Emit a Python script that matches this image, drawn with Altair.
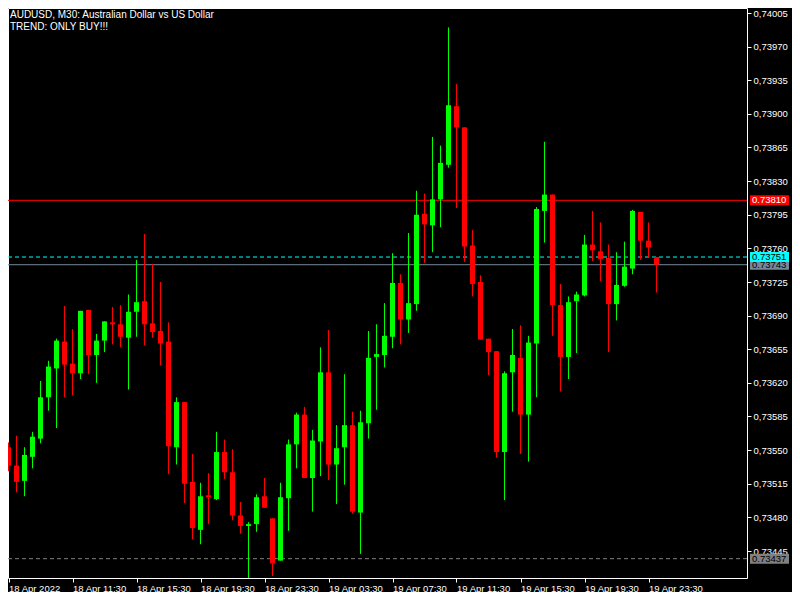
import altair as alt
import pandas as pd

# ---------------- data (AUDUSD M30) ----------------
start_time = "2022-04-18T07:30:00Z"
opens = [0.73553, 0.73534, 0.73518, 0.73543, 0.73562, 0.73605, 0.73635, 0.73663, 0.73640, 0.73630,
         0.73696, 0.73649, 0.73664, 0.73683, 0.73681, 0.73667, 0.73694, 0.73705, 0.73682, 0.73674,
         0.73663, 0.73553, 0.73600, 0.73517, 0.73467, 0.73503, 0.73499, 0.73548, 0.73527, 0.73482,
         0.73471, 0.73473, 0.73502, 0.73479, 0.73435, 0.73500, 0.73556, 0.73587, 0.73521, 0.73559,
         0.73631, 0.73535, 0.73553, 0.73576, 0.73485, 0.73578, 0.73647, 0.73649, 0.73668, 0.73724,
         0.73686, 0.73702, 0.73796, 0.73784, 0.73811, 0.73847, 0.73908, 0.73886, 0.73763, 0.73725,
         0.73666, 0.73653, 0.73548, 0.73631, 0.73646, 0.73587, 0.73661, 0.73799, 0.73816, 0.73701,
         0.73647, 0.73705, 0.73711, 0.73764, 0.73757, 0.73750, 0.73702, 0.73721, 0.73739, 0.73798,
         0.73768, 0.73751]
highs = [0.73558, 0.73565, 0.73553, 0.73569, 0.73622, 0.73643, 0.73666, 0.73700, 0.73676, 0.73695,
         0.73696, 0.73671, 0.73684, 0.73699, 0.73701, 0.73712, 0.73748, 0.73775, 0.73744, 0.73725,
         0.73683, 0.73605, 0.73600, 0.73546, 0.73516, 0.73526, 0.73569, 0.73561, 0.73551, 0.73496,
         0.73475, 0.73504, 0.73521, 0.73479, 0.73516, 0.73561, 0.73589, 0.73595, 0.73571, 0.73657,
         0.73675, 0.73576, 0.73629, 0.73590, 0.73591, 0.73674, 0.73681, 0.73703, 0.73755, 0.73733,
         0.73776, 0.73820, 0.73817, 0.73876, 0.73867, 0.73990, 0.73931, 0.73886, 0.73779, 0.73732,
         0.73666, 0.73653, 0.73632, 0.73676, 0.73680, 0.73669, 0.73803, 0.73871, 0.73816, 0.73723,
         0.73710, 0.73715, 0.73774, 0.73799, 0.73787, 0.73764, 0.73756, 0.73767, 0.73800, 0.73798,
         0.73787, 0.73751]
lows = [0.73528, 0.73506, 0.73502, 0.73531, 0.73557, 0.73591, 0.73573, 0.73605, 0.73607, 0.73624,
        0.73629, 0.73620, 0.73652, 0.73660, 0.73657, 0.73613, 0.73668, 0.73659, 0.73667, 0.73638,
        0.73525, 0.73535, 0.73495, 0.73457, 0.73452, 0.73473, 0.73498, 0.73520, 0.73477, 0.73463,
        0.73416, 0.73465, 0.73490, 0.73419, 0.73435, 0.73466, 0.73531, 0.73521, 0.73486, 0.73523,
        0.73519, 0.73494, 0.73514, 0.73484, 0.73442, 0.73562, 0.73592, 0.73636, 0.73656, 0.73660,
        0.73672, 0.73695, 0.73745, 0.73756, 0.73782, 0.73844, 0.73802, 0.73746, 0.73710, 0.73665,
        0.73628, 0.73542, 0.73498, 0.73590, 0.73546, 0.73538, 0.73605, 0.73766, 0.73669, 0.73611,
        0.73624, 0.73651, 0.73710, 0.73747, 0.73726, 0.73652, 0.73685, 0.73720, 0.73733, 0.73748,
        0.73751, 0.73714]
closes = [0.73534, 0.73517, 0.73545, 0.73564, 0.73605, 0.73637, 0.73664, 0.73639, 0.73630, 0.73695,
          0.73649, 0.73664, 0.73684, 0.73681, 0.73668, 0.73694, 0.73704, 0.73681, 0.73673, 0.73661,
          0.73554, 0.73600, 0.73515, 0.73469, 0.73502, 0.73501, 0.73548, 0.73527, 0.73482, 0.73471,
          0.73473, 0.73501, 0.73490, 0.73432, 0.73501, 0.73556, 0.73587, 0.73521, 0.73560, 0.73631,
          0.73535, 0.73552, 0.73576, 0.73486, 0.73579, 0.73646, 0.73650, 0.73669, 0.73724, 0.73686,
          0.73703, 0.73795, 0.73785, 0.73811, 0.73849, 0.73909, 0.73886, 0.73762, 0.73723, 0.73665,
          0.73652, 0.73548, 0.73630, 0.73649, 0.73587, 0.73662, 0.73801, 0.73816, 0.73701, 0.73647,
          0.73704, 0.73712, 0.73764, 0.73758, 0.73749, 0.73702, 0.73722, 0.73741, 0.73799, 0.73768,
          0.73761, 0.73743]

y_ticks = [0.74005, 0.73970, 0.73935, 0.73900, 0.73865, 0.73830, 0.73795, 0.73760, 0.73725,
           0.73690, 0.73655, 0.73620, 0.73585, 0.73550, 0.73515, 0.73480, 0.73445]
x_tick_labels = ["18 Apr 2022", "18 Apr 11:30", "18 Apr 15:30", "18 Apr 19:30", "18 Apr 23:30",
                 "19 Apr 03:30", "19 Apr 07:30", "19 Apr 11:30", "19 Apr 15:30", "19 Apr 19:30",
                 "19 Apr 23:30"]

level_prices = [0.73810, 0.73743, 0.73751, 0.73437]
level_labels = ["0.73810", "0.73743", "0.73751", "0.73437"]
level_colors = ["#ff0000", "#778899", "#00ffff", "#808080"]
level_text_colors = ["#ffffff", "#000000", "#000000", "#000000"]
level_styles = ["solid", "solid", "dash", "dash"]

title_lines = ["AUDUSD, M30:  Australian Dollar vs US Dollar", "TREND: ONLY BUY!!!"]

# ---------------- frames ----------------
times = pd.date_range(start=start_time, periods=len(opens), freq="30min")
df = pd.DataFrame({
    "time": times.strftime("%Y-%m-%dT%H:%M:%SZ"),
    "open": opens, "high": highs, "low": lows, "close": closes,
})
df["dir"] = ["up" if c > o else "down" for o, c in zip(opens, closes)]

levels = pd.DataFrame({
    "price": level_prices, "label": level_labels, "color": level_colors,
    "tcolor": level_text_colors, "style": level_styles,
})

# ---------------- layout ----------------
W, H = 739, 570
FONT = "Liberation Sans"
FS = 9.5
step_ms = 30 * 60 * 1000
px_per_bar = 8
t0 = int(pd.Timestamp(start_time).value // 10**6)
dom_start = t0 - int(0.5 / px_per_bar * step_ms)
dom_end = dom_start + int(W / px_per_bar * step_ms)
x_tick_values = [t0 + i * 8 * step_ms for i in range(len(x_tick_labels))]
label_array = "[" + ",".join("'" + s + "'" for s in x_tick_labels) + "]"

price_per_px = 0.0056 / 538
y_top = y_ticks[0] + 5 * price_per_px
y_bottom = y_top - H * price_per_px

xscale = alt.Scale(type="utc", domain=[dom_start, dom_end], nice=False)
yscale = alt.Scale(domain=[y_bottom, y_top], nice=False, zero=False)

x_axis = alt.Axis(values=x_tick_values, title=None, grid=False, domain=False,
                  tickColor="#ffffff", tickSize=4, tickWidth=1,
                  labelColor="#ffffff", labelFont=FONT, labelFontSize=FS,
                  labelAlign="left", labelBaseline="top", labelPadding=1, labelFlush=False,
                  labelOverlap=False,
                  labelExpr=f"{label_array}[round((datum.value - {t0}) / {8 * step_ms})]")
y_axis = alt.Axis(values=y_ticks, orient="right", title=None, grid=False, domain=False,
                  tickColor="#ffffff", tickSize=4, tickWidth=1,
                  labelColor="#ffffff", labelFont=FONT, labelFontSize=FS,
                  labelPadding=2, labelOverlap=False, labelFlush=False,
                  labelExpr="replace(format(datum.value, '.5f'), '.', ',')")

base = alt.Chart(df)
color = alt.Color("dir:N", scale=alt.Scale(domain=["up", "down"], range=["#00ff00", "#ff0000"]),
                  legend=None)

lines = alt.Chart(levels).mark_rule(strokeWidth=1).encode(
    y=alt.Y("price:Q", scale=yscale, axis=y_axis),
    color=alt.Color("color:N", scale=None),
    strokeDash=alt.StrokeDash("style:N", scale=alt.Scale(domain=["solid", "dash"],
                                                         range=[[1, 0], [4, 3]]), legend=None),
)

wicks = base.mark_rule(strokeWidth=1, clip=True).encode(
    x=alt.X("time:T", scale=xscale, axis=x_axis),
    y=alt.Y("low:Q", scale=yscale, axis=y_axis),
    y2="high:Q",
    color=color,
)

bodies = base.mark_rect(xOffset=-2.5, x2Offset=2.5, clip=True).encode(
    x=alt.X("time:T", scale=xscale, axis=x_axis),
    x2="time:T",
    y=alt.Y("open:Q", scale=yscale, axis=y_axis),
    y2="close:Q",
    color=color,
)

boxes = alt.Chart(levels).mark_rect(yOffset=-5, y2Offset=5, clip=False).encode(
    x=alt.value(W + 3), x2=alt.value(W + 42),
    y=alt.Y("price:Q", scale=yscale, axis=y_axis), y2="price:Q",
    color=alt.Color("color:N", scale=None),
)
box_text = alt.Chart(levels).mark_text(align="left", baseline="middle", font=FONT, fontSize=FS,
                                       clip=False).encode(
    x=alt.value(W + 5),
    y=alt.Y("price:Q", scale=yscale, axis=y_axis),
    text="label:N",
    color=alt.Color("tcolor:N", scale=None),
)

titles_df = pd.DataFrame({"text": title_lines})
title1 = alt.Chart(titles_df.iloc[[0]]).mark_text(
    align="left", baseline="top", font=FONT, fontSize=10, color="#ffffff").encode(
    x=alt.value(2), y=alt.value(2), text="text:N")
title2 = alt.Chart(titles_df.iloc[[1]]).mark_text(
    align="left", baseline="top", font=FONT, fontSize=10, color="#ffffff").encode(
    x=alt.value(2), y=alt.value(14), text="text:N")

chart = alt.layer(lines, wicks, bodies, boxes, box_text, title1, title2).properties(
    width=W, height=H,
    autosize=alt.AutoSizeParams(type="none"),
    padding={"left": 0, "top": 0, "right": 45, "bottom": 14},
    background="#000000",
).configure_view(stroke="#ffffff", strokeWidth=1, fill="#000000")

chart.save("out.html", embed_options={"renderer": "svg", "actions": False})
